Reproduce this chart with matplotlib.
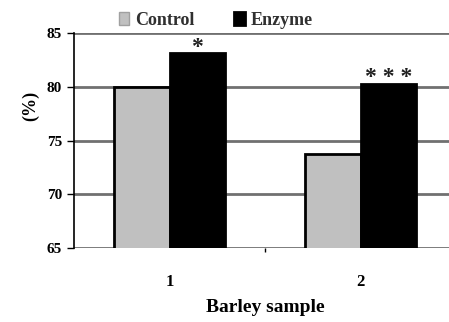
import matplotlib
matplotlib.use("Agg")
import matplotlib.pyplot as plt
import numpy as np

categories = ["1", "2"]
control = [80.0, 73.7]
enzyme = [83.1, 80.3]
stars = ["*", "* * *"]

plt.rcParams['font.family'] = ['Liberation Serif', 'DejaVu Serif']
plt.rcParams['font.weight'] = 'bold'

fig = plt.figure(figsize=(4.49, 3.22), dpi=100)
ax = fig.add_axes([74/449, 1-248/322, 382/449, 215/322])

x = np.arange(len(categories)) + 0.5
w = 0.29
ax.bar(x - w/2, control, w, color='#c0c0c0', edgecolor='black', linewidth=2, label='Control', zorder=3)
ax.bar(x + w/2, enzyme, w, color='black', edgecolor='black', linewidth=2, label='Enzyme', zorder=3)

for xi, v, s in zip(x + w/2, enzyme, stars):
    ax.text(xi, v + 0.05, s, ha='center', va='baseline', fontsize=17, fontweight='bold', color='#202020')

ax.set_ylim(65, 85)
ax.set_xlim(0, 2)
ax.set_yticks([65, 70, 75, 80, 85])
ax.yaxis.grid(True, color='#707070', linewidth=2, zorder=0)
ax.set_axisbelow(True)
ax.set_xticks([1])
ax.set_xticklabels([''])
ax.tick_params(axis='x', length=3, width=1)
for xi, c in zip(x, categories):
    ax.text(xi, -0.12, c, transform=ax.get_xaxis_transform(), ha='center', va='top', fontsize=12, fontweight='bold')
ax.tick_params(axis='y', length=5, width=1, labelsize=11)
for spine in ['top', 'right', 'bottom']:
    ax.spines[spine].set_visible(False)
ax.spines['left'].set_linewidth(1.2)
ax.set_xlabel('Barley sample', fontsize=14, fontweight='bold', labelpad=30)
ax.set_ylabel('(%)', fontsize=13, fontweight='bold')
ax.yaxis.set_label_coords(-0.09, 0.66)

leg = ax.legend(loc='lower left', bbox_to_anchor=(0.098, 0.985), ncol=2, frameon=False,
                fontsize=13, handlelength=0.6, handleheight=0.7, handletextpad=0.3,
                columnspacing=2.2, borderaxespad=0)
handles = leg.legend_handles
handles[0].set_edgecolor('#a0a0a0')
handles[0].set_linewidth(1)
for t in leg.get_texts():
    t.set_color('#303030')

fig.savefig('out.png', dpi=100)
